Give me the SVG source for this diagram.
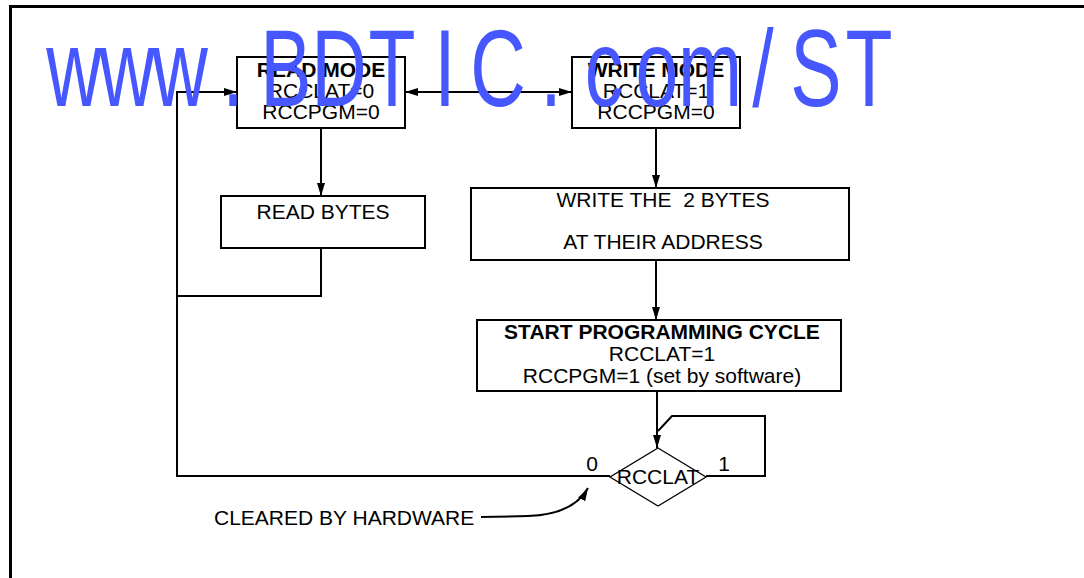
<svg xmlns="http://www.w3.org/2000/svg" width="1084" height="578" viewBox="0 0 1084 578">
<defs>
<style>
.box{fill:#fff;stroke:#000;stroke-width:2}
.ln{fill:none;stroke:#000;stroke-width:2}
.t{font-family:"Liberation Sans",Arial,sans-serif;font-size:21px;fill:#000;text-anchor:middle}
.b{font-weight:bold}
.wm{font-family:"Liberation Sans",Arial,sans-serif;font-size:110px;fill:#4657ff;text-anchor:middle}
</style>
<marker id="ah" markerUnits="userSpaceOnUse" markerWidth="14" markerHeight="10" refX="13" refY="5" orient="auto-start-reverse">
<path d="M0,1 L13,5 L0,9 Z" fill="#000"/>
</marker>
</defs>
<rect width="1084" height="578" fill="#fff"/>
<g id="frame">
<line x1="9" y1="6.5" x2="1084" y2="6.5" stroke="#000" stroke-width="3"/>
<line x1="10.5" y1="5" x2="10.5" y2="578" stroke="#000" stroke-width="3"/>
</g>
<g id="connectors">
<line class="ln" x1="405" y1="92" x2="572" y2="92" marker-start="url(#ah)" marker-end="url(#ah)"/>
<polyline class="ln" points="610,476 177,476 177,92 237,92" marker-end="url(#ah)"/>
<line class="ln" x1="321" y1="128" x2="321" y2="196" marker-end="url(#ah)"/>
<polyline class="ln" points="321,248 321,296 176,296"/>
<line class="ln" x1="656" y1="128" x2="656" y2="188" marker-end="url(#ah)"/>
<line class="ln" x1="656" y1="260" x2="656" y2="320" marker-end="url(#ah)"/>
<line class="ln" x1="657" y1="391" x2="657" y2="448" marker-end="url(#ah)"/>
<polyline class="ln" points="706,476 765,476 765,416 672,416 658,431"/>
<path class="ln" d="M481,517 L528,516 C558,515 578,506 588,488" stroke-width="1.5" marker-end="url(#ah)"/>
</g>
<g id="read-mode">
<rect class="box" x="237" y="57" width="168" height="71"/>
<text class="t b" x="321" y="77">READ MODE</text>
<text class="t" x="321" y="98">RCCLAT=0</text>
<text class="t" x="321" y="119">RCCPGM=0</text>
</g>
<g id="write-mode">
<rect class="box" x="572" y="57" width="168" height="71"/>
<text class="t b" x="656" y="77">WRITE MODE</text>
<text class="t" x="656" y="98">RCCLAT=1</text>
<text class="t" x="656" y="119">RCCPGM=0</text>
</g>
<g id="read-bytes">
<rect class="box" x="221" y="196" width="204" height="52"/>
<text class="t" x="323" y="219">READ BYTES</text>
</g>
<g id="write-bytes">
<rect class="box" x="471" y="188" width="378" height="72"/>
<text class="t" x="663" y="207" xml:space="preserve">WRITE THE  2 BYTES</text>
<text class="t" x="663" y="249">AT THEIR ADDRESS</text>
</g>
<g id="start-cycle">
<rect class="box" x="477" y="320" width="364" height="71"/>
<text class="t b" x="662" y="339">START PROGRAMMING CYCLE</text>
<text class="t" x="662" y="361">RCCLAT=1</text>
<text class="t" x="662" y="383">RCCPGM=1 (set by software)</text>
</g>
<g id="rcclat-decision">
<polygon points="658,448 706,477 658,506 610,477" fill="#fff" stroke="#000" stroke-width="1.3"/>
<text class="t" x="658" y="484">RCCLAT</text>
<text class="t" x="592" y="471">0</text>
<text class="t" x="724" y="471">1</text>
</g>
<g id="note">
<text class="t" x="214" y="525" style="text-anchor:start">CLEARED BY HARDWARE</text>
</g>
<g id="watermark">
<text class="wm" transform="scale(0.7,1)" y="106" x="105.7 181.4 257.1 332.9 408.6 484.3 560 635.7 711.4 787.1 862.9 938.6 1014.3 1090 1165.7 1241.4">www.BDTIC.com/ST</text>
</g>
</svg>
